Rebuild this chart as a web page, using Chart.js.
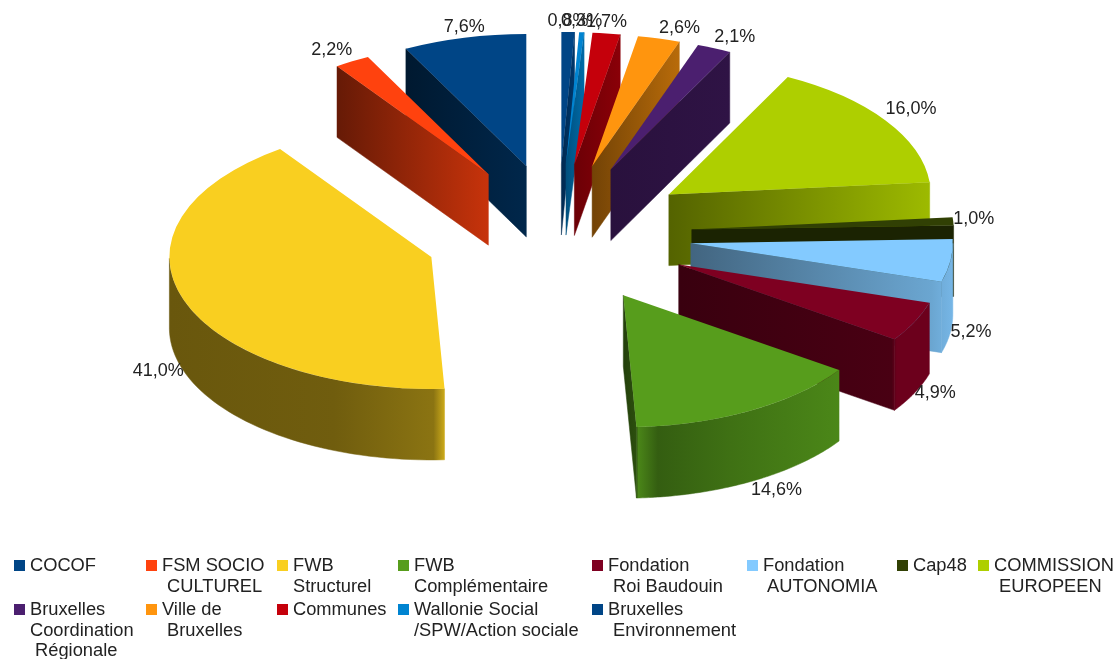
<!DOCTYPE html>
<html lang="fr">
<head>
<meta charset="utf-8">
<title>Répartition des financements</title>
<script src="https://cdn.jsdelivr.net/npm/chart.js@4/dist/chart.umd.min.js"></script>
<style>
  html, body { margin: 0; padding: 0; background: #fff; }
  #stage { position: relative; width: 1115px; height: 659px; overflow: hidden; }
  #pie { position: absolute; left: 0; top: 0; }
  #legend {
    position: absolute; left: 14px; top: 555px;
    display: grid;
    grid-template-columns: 132px 131px 121px 194px 155px 150px 81px 135px;
    row-gap: 3px;
    font: 18.3px/20.5px "Liberation Sans", sans-serif;
    color: #222;
  }
  .item { position: relative; padding-left: 16px; white-space: pre; }
  .item i { position: absolute; left: 0; top: 5px; width: 11px; height: 11px; }
</style>
</head>
<body>
<div id="stage">
  <canvas id="pie" width="1115" height="659"></canvas>
  <div id="legend"></div>
</div>
<script>
// Funding sources, in legend order (counter-clockwise from twelve o'clock on the pie).
const funders = [
  ["COCOF"],
  ["FSM SOCIO", " CULTUREL"],
  ["FWB", "Structurel"],
  ["FWB", "Complémentaire"],
  ["Fondation", " Roi Baudouin"],
  ["Fondation", " AUTONOMIA"],
  ["Cap48"],
  ["COMMISSION", " EUROPEEN"],
  ["Bruxelles", "Coordination", " Régionale"],
  ["Ville de", " Bruxelles"],
  ["Communes"],
  ["Wallonie Social", "/SPW/Action sociale"],
  ["Bruxelles", " Environnement"]
];
const shares = [7.6, 2.2, 41.0, 14.6, 4.9, 5.2, 1.0, 16.0, 2.1, 2.6, 1.7, 0.3, 0.8];
const colours = ["#004586", "#ff420e", "#f9cf20", "#579d1c", "#7e0021", "#83caff", "#314004",
                 "#aecf00", "#4b1f6f", "#ff950e", "#c5000b", "#0084d1", "#004586"];
// Side-wall brightness stops, left to right across each slice: [position, factor].
const wallShades = [
  [[0, 0.36], [1, 0.56]],
  [[0, 0.40], [1, 0.78]],
  [[0, 0.42], [0.6, 0.45], [0.96, 0.56], [1, 0.82]],
  [[0, 0.40], [0.06, 0.50], [0.07, 0.85], [0.16, 0.60], [0.5, 0.72], [1, 0.86]],
  [[0, 0.45], [0.85, 0.58], [0.87, 0.86], [1, 0.86]],
  [[0, 0.50], [0.92, 0.82], [1, 0.9]],
  [[0, 0.55], [1, 0.55]],
  [[0, 0.48], [1, 0.90]],
  [[0, 0.55], [1, 0.62]],
  [[0, 0.45], [1, 0.72]],
  [[0, 0.55], [1, 0.70]],
  [[0, 0.6], [1, 0.8]],
  [[0, 0.6], [1, 0.8]]
];

// Pie geometry on the canvas.
const RADIUS = 262;
const EXPLODE_X = 134;
const EXPLODE_Y = 139;
const SQUASH = 0.504;
const DEPTH = 71;
const CENTRE_Y = 234;

const shade = (hex, f) => {
  const n = parseInt(hex.slice(1), 16);
  return `rgb(${[(n >> 16) & 255, (n >> 8) & 255, n & 255].map(c => Math.round(c * f)).join(",")})`;
};
const squashY = y => CENTRE_Y + (y - CENTRE_Y) * SQUASH;
const rimPoint = (arc, a) => [arc.x + arc.outerRadius * Math.cos(a), squashY(arc.y + arc.outerRadius * Math.sin(a))];

// The pie runs clockwise, the legend counter-clockwise.
const order = shares.map((_, i) => shares.length - 1 - i);

function fillWall(ctx, pts, gradient) {
  ctx.beginPath();
  pts.forEach(([x, y], i) => i ? ctx.lineTo(x, y) : ctx.moveTo(x, y));
  [...pts].reverse().forEach(([x, y]) => ctx.lineTo(x, y + DEPTH));
  ctx.closePath();
  ctx.fillStyle = gradient;
  ctx.fill();
  ctx.strokeStyle = gradient;
  ctx.lineWidth = 0.5;
  ctx.stroke();
}

function drawWalls(ctx, arc, legendIndex) {
  const apex = [arc.x, squashY(arc.y)];
  const { startAngle: a0, endAngle: a1 } = arc;
  const faces = [];
  // Straight cut faces are seen only when they turn toward the viewer.
  if (Math.cos(a0) < 0) faces.push([apex, rimPoint(arc, a0)]);
  if (Math.cos(a1) > 0) faces.push([apex, rimPoint(arc, a1)]);
  // Curved rim: only the part on the lower half of the ellipse.
  const rim = [];
  const steps = 80;
  for (let i = 0; i <= steps; i++) {
    const a = a0 + (a1 - a0) * i / steps;
    if (Math.sin(a) >= 0) rim.push(rimPoint(arc, a));
  }
  if (rim.length > 1) faces.push(rim);
  const xs = faces.flat().map(p => p[0]);
  const left = Math.min(...xs), right = Math.max(...xs);
  const base = colours[legendIndex];
  const gradient = ctx.createLinearGradient(left, 0, right, 0);
  wallShades[legendIndex].forEach(([pos, f]) => gradient.addColorStop(pos, shade(base, f)));
  faces.forEach(f => fillWall(ctx, f, gradient));
}

const explodedPie = {
  id: "explodedPie",
  afterDatasetsUpdate(chart) {
    chart.getDatasetMeta(0).data.forEach(arc => {
      const mid = (arc.startAngle + arc.endAngle) / 2;
      arc.x += Math.cos(mid) * EXPLODE_X;
      arc.y += Math.sin(mid) * EXPLODE_Y;
    });
  },
  beforeDatasetDraw(chart, args) {
    const ctx = chart.ctx;
    const arcs = args.meta.data.map((arc, i) => ({ arc, legendIndex: order[i] }));
    arcs.sort((p, q) => p.arc.y - q.arc.y);   // back to front
    arcs.forEach(({ arc, legendIndex }) => {
      drawWalls(ctx, arc, legendIndex);
      ctx.save();
      ctx.translate(0, CENTRE_Y);
      ctx.scale(1, SQUASH);
      ctx.translate(0, -CENTRE_Y);
      arc.draw(ctx, chart.chartArea);
      ctx.restore();
    });
    return false;
  },
  afterDraw(chart) {
    const ctx = chart.ctx;
    ctx.save();
    ctx.font = '18px "Liberation Sans", sans-serif';
    ctx.fillStyle = "#222";
    chart.getDatasetMeta(0).data.forEach((arc, i) => {
      const mid = (arc.startAngle + arc.endAngle) / 2;
      const dx = Math.cos(mid), dy = Math.sin(mid);
      const [px, py] = rimPoint(arc, mid);
      const text = shares[order[i]].toFixed(1).replace(".", ",") + "%";
      ctx.textAlign = Math.abs(dx) < 0.24 ? "center" : dx > 0 ? "left" : "right";
      if (Math.abs(dy) < 0.5) {
        ctx.textBaseline = "middle";
      } else {
        ctx.textBaseline = dy > 0 ? "top" : "bottom";
      }
      ctx.fillText(text, px, dy > 0 ? py + DEPTH : py - 2);
    });
    ctx.restore();
  }
};

new Chart(document.getElementById("pie"), {
  type: "pie",
  data: {
    labels: order.map(i => funders[i].join(" ").replace(/\s+/g, " ")),
    datasets: [{
      data: order.map(i => shares[i]),
      backgroundColor: order.map(i => colours[i]),
      borderWidth: 0,
      radius: RADIUS,
      clip: false
    }]
  },
  options: {
    responsive: false,
    animation: false,
    events: [],
    layout: { padding: { left: 1, bottom: 659 - 2 * CENTRE_Y } },
    plugins: { legend: { display: false }, tooltip: { enabled: false } }
  },
  plugins: [explodedPie]
});

// Legend below the chart, in two rows.
const legend = document.getElementById("legend");
funders.forEach((lines, i) => {
  const item = document.createElement("div");
  item.className = "item";
  const swatch = document.createElement("i");
  swatch.style.background = colours[i];
  item.appendChild(swatch);
  item.appendChild(document.createTextNode(lines.join("\n")));
  legend.appendChild(item);
});
</script>
</body>
</html>
